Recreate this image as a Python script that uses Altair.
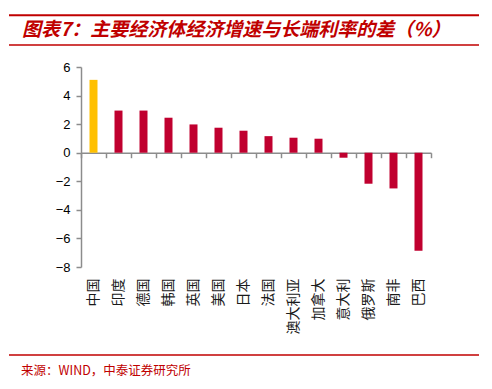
import altair as alt
import pandas as pd

categories = ["中国", "印度", "德国", "韩国", "英国", "美国", "日本", "法国",
              "澳大利亚", "加拿大", "意大利", "俄罗斯", "南非", "巴西"]
values = [5.1, 2.95, 2.95, 2.45, 1.98, 1.75, 1.54, 1.16, 1.05, 0.98, -0.35, -2.17, -2.5, -6.86]
y_ticks = [-8, -6, -4, -2, 0, 2, 4, 6]
title_text = "图表7：主要经济体经济增速与长端利率的差（%）"
source_text = "来源：WIND，中泰证券研究所"

df = pd.DataFrame({"country": categories, "value": values})

RED = "#C0002F"
GOLD = "#FFC000"
DARK_RED = "#C00000"
AXIS_GRAY = "#8c8c8c"
CJK = "Noto Sans CJK SC"

x_scale = alt.Scale(domain=categories, paddingInner=0, paddingOuter=0)
y_scale = alt.Scale(domain=[-8, 6], nice=False, zero=False)

y_axis = alt.Axis(values=y_ticks, grid=False, domainColor=AXIS_GRAY, domainWidth=1.5,
                  tickColor=AXIS_GRAY, tickWidth=1.5, tickSize=5, labelPadding=6,
                  labelFont="Liberation Sans", labelFontSize=13, labelColor="#000000",
                  title=None)

# layer providing the bottom category labels
labels_layer = alt.Chart(df).mark_bar(opacity=0).encode(
    x=alt.X("country:N", sort=categories, scale=x_scale,
            axis=alt.Axis(orient="bottom", domain=False, ticks=False, labelAngle=270,
                          labelAlign="right", labelBaseline="middle", labelPadding=11,
                          labelFont=CJK, labelFontSize=14, labelColor="#1a1a1a", title=None)),
    y=alt.Y("value:Q", scale=y_scale, axis=y_axis),
)

# bars with the zero-line axis
bars = alt.Chart(df).mark_bar(width=8).encode(
    x=alt.X("country:N", sort=categories, scale=x_scale,
            axis=alt.Axis(orient="bottom", labels=False, domainColor=AXIS_GRAY, domainWidth=1.5,
                          tickColor=AXIS_GRAY, tickWidth=1.5, tickSize=5,
                          tickBand="extent", offset=-(200 * 8 / 14), title=None)),
    y=alt.Y("value:Q", scale=y_scale, axis=y_axis),
    color=alt.condition(alt.datum.country == "中国", alt.value(GOLD), alt.value(RED)),
)

one = pd.DataFrame({"a": [0]})

def hline(y, x1, x2, w):
    return alt.Chart(one).mark_rule(color=DARK_RED, strokeWidth=w).encode(
        x=alt.value(x1), x2=alt.value(x2), y=alt.value(y))

top_line = hline(-51.7, -72, 398, 2)
mid_line = hline(-22, -72, 398, 1.3)
foot_line = hline(288, -72, 398, 1.3)

title = alt.Chart(one).mark_text(text=title_text, font=CJK, fontSize=19, fontWeight="bold",
                                 fontStyle="italic", color=DARK_RED, align="left",
                                 baseline="middle").encode(x=alt.value(-59), y=alt.value(-37))
source = alt.Chart(one).mark_text(text=source_text, font=CJK, fontSize=12.5, color=DARK_RED,
                                  align="left", baseline="middle").encode(
    x=alt.value(-60), y=alt.value(303.5))

chart = alt.layer(labels_layer, bars, top_line, mid_line, foot_line, title, source).resolve_axis(
    x="independent"
).properties(
    width=350, height=200,
    autosize=alt.AutoSizeParams(type="none"),
    padding={"left": 73, "top": 59, "right": 53, "bottom": 114},
).configure_view(stroke=None)

chart.save("out.html", embed_options={"renderer": "svg", "actions": False})
